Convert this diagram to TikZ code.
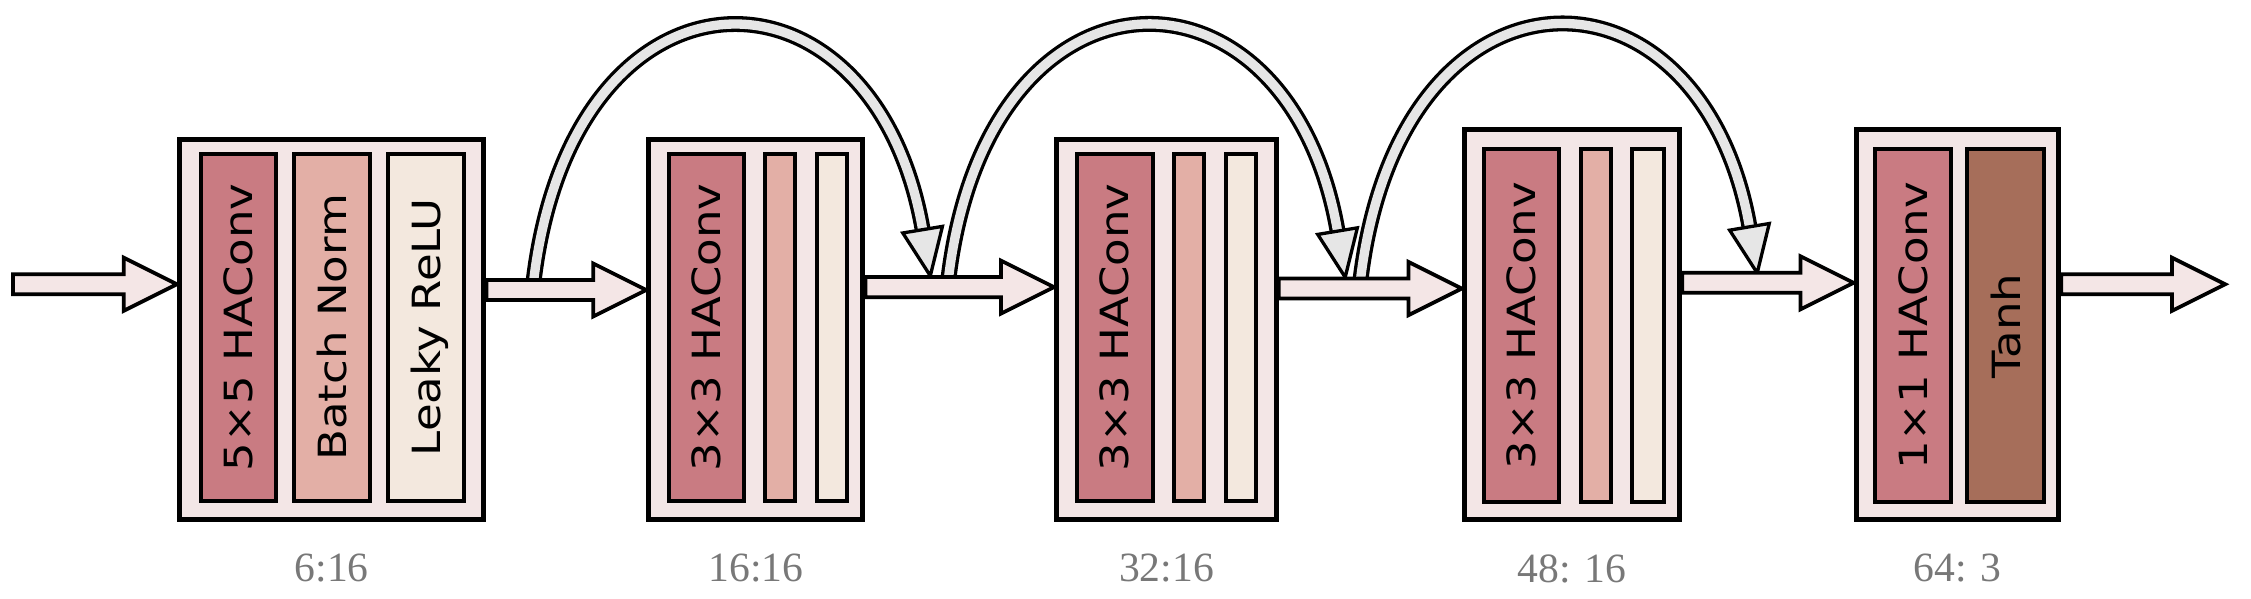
\documentclass[tikz,border=0pt]{standalone}
\usepackage{fontspec}
\setmainfont{DejaVu Sans}
\newfontfamily\labelfont{Liberation Serif}
\usetikzlibrary{calc,decorations.markings}
\definecolor{boxfill}{RGB}{243,230,230}
\definecolor{convc}{RGB}{201,123,130}
\definecolor{bnc}{RGB}{227,175,166}
\definecolor{reluc}{RGB}{243,232,222}
\definecolor{tanhc}{RGB}{166,110,90}
\definecolor{arrowc}{RGB}{244,230,230}
\definecolor{skipc}{RGB}{230,230,230}
\definecolor{labelc}{RGB}{120,120,120}
\def\U{0.02cm}
\def\ash{3.98pt}
\def\ahh{10.53pt}
\def\ahl{21.06pt}
\newcommand\bartext[1]{\rotatebox{90}{\scalebox{1.16}[1]{#1}}}
\begin{document}
\begin{tikzpicture}[x=0.02cm,y=-0.02cm,
  outerbox/.style={draw=black, line width=3.6*\U, fill=boxfill, inner sep=0pt},
  bar/.style={draw=black, line width=2.8*\U, inner sep=0pt, minimum height=242*\U,
    font=\fontsize{15.4}{18}\selectfont},
  tallbar/.style={bar, minimum height=246*\U},
  lbl/.style={inner sep=0pt, text=labelc, font=\labelfont\fontsize{16.5}{19}\selectfont},
  blockarrow/.style={draw=black, line width=2.6*\U, fill=arrowc, line join=miter,
    to path={let \p1=(\tikztostart), \p2=(\tikztotarget) in
      (\x1,\y1+\ash) -- (\x2-\ahl,\y1+\ash) -- (\x2-\ahl,\y1+\ahh) -- (\x2,\y1)
      -- (\x2-\ahl,\y1-\ahh) -- (\x2-\ahl,\y1-\ash) -- (\x1,\y1-\ash) -- cycle}},
  skipline/.style={draw=black, line width=2.3*\U, double=skipc, double distance=6.5*\U,
    shorten >=30*\U},
  skiptip/.style={postaction={decorate, decoration={markings, mark=at position 0.999 with
    {\draw[draw=black, line width=2.3*\U, fill=skipc, line join=miter]
      (0.6*\U,0) -- (-32*\U,14*\U) -- (-32*\U,-14*\U) -- cycle;}}}}
]
\useasboundingbox (0,0) rectangle (1568,417);

% ---- block 1
\node[outerbox, minimum width=212*\U, minimum height=265*\U] (b1) at (231,229.5) {};
\node[bar, fill=convc, minimum width=52*\U] (b1c) at (166,228) {\bartext{5×5 HAConv}};
\node[bar, fill=bnc, minimum width=53*\U] (b1n) at (231.5,228) {\bartext{Batch Norm}};
\node[bar, fill=reluc, minimum width=53*\U] (b1r) at (296.5,228) {\bartext{\raisebox{0pt}[\height][0pt]{Leaky ReLU}}};
% ---- block 2
\node[outerbox, minimum width=149*\U, minimum height=265*\U] (b2) at (526.5,229.5) {};
\node[bar, fill=convc, minimum width=52*\U] (b2c) at (492,228) {\bartext{3×3 HAConv}};
\node[bar, fill=bnc, minimum width=21*\U] (b2n) at (543.5,228) {};
\node[bar, fill=reluc, minimum width=21*\U] (b2r) at (579.5,228) {};
% ---- block 3
\node[outerbox, minimum width=153*\U, minimum height=265*\U] (b3) at (812.5,229.5) {};
\node[bar, fill=convc, minimum width=53*\U] (b3c) at (776.5,228) {\bartext{3×3 HAConv}};
\node[bar, fill=bnc, minimum width=21*\U] (b3n) at (828.5,228) {};
\node[bar, fill=reluc, minimum width=21*\U] (b3r) at (864.5,228) {};
% ---- block 4
\node[outerbox, minimum width=150*\U, minimum height=272*\U] (b4) at (1095,226) {};
\node[tallbar, fill=convc, minimum width=52*\U] (b4c) at (1060,227) {\bartext{3×3 HAConv}};
\node[tallbar, fill=bnc, minimum width=21*\U] (b4n) at (1111.5,227) {};
\node[tallbar, fill=reluc, minimum width=22*\U] (b4r) at (1148,227) {};
% ---- block 5
\node[outerbox, minimum width=141*\U, minimum height=272*\U] (b5) at (1363.5,226) {};
\node[tallbar, fill=convc, minimum width=53*\U] (b5c) at (1332.5,227) {\bartext{1×1 HAConv}};
\node[tallbar, fill=tanhc, minimum width=54*\U] (b5t) at (1397,227) {\bartext{Tanh}};

% ---- labels
\node[lbl] (l1) at (231,396) {6:16};
\node[lbl] (l2) at (526.5,396) {16:16};
\node[lbl] (l3) at (812.5,396) {32:16};
\node[lbl] (l4) at (1095,396) {48: 16};
\node[lbl] (l5) at (1363.5,396) {64: 3};

% ---- skip connections
\coordinate (s1) at (371,202);  \coordinate (e1) at (648,192);
\coordinate (s2) at (660,200);  \coordinate (e2) at (937,193);
\coordinate (s3) at (947,201);  \coordinate (e3) at (1224,190);
\draw[skipline] (s1) .. controls +(25,-240) and +(-38,-230) .. (e1);
\path[skiptip]  (s1) .. controls +(25,-240) and +(-38,-230) .. (e1);
\draw[skipline] (s2) .. controls +(25,-238) and +(-38,-231) .. (e2);
\path[skiptip]  (s2) .. controls +(25,-238) and +(-38,-231) .. (e2);
\draw[skipline] (s3) .. controls +(25,-239) and +(-38,-228) .. (e3);
\path[skiptip]  (s3) .. controls +(25,-239) and +(-38,-228) .. (e3);

% ---- main flow arrows
\coordinate (in) at (9,198);
\coordinate (out) at (1550,198);
\draw[blockarrow] (in) to (b1.west |- in);
\draw[blockarrow] (b1.east |- 0,202) to (b2.west |- 0,202);
\draw[blockarrow] (b2.east |- 0,200) to (b3.west |- 0,200);
\draw[blockarrow] (b3.east |- 0,201) to (b4.west |- 0,201);
\draw[blockarrow] (b4.east |- 0,197) to (b5.west |- 0,197);
\draw[blockarrow] (b5.east |- out) to (out);
\end{tikzpicture}
\end{document}
